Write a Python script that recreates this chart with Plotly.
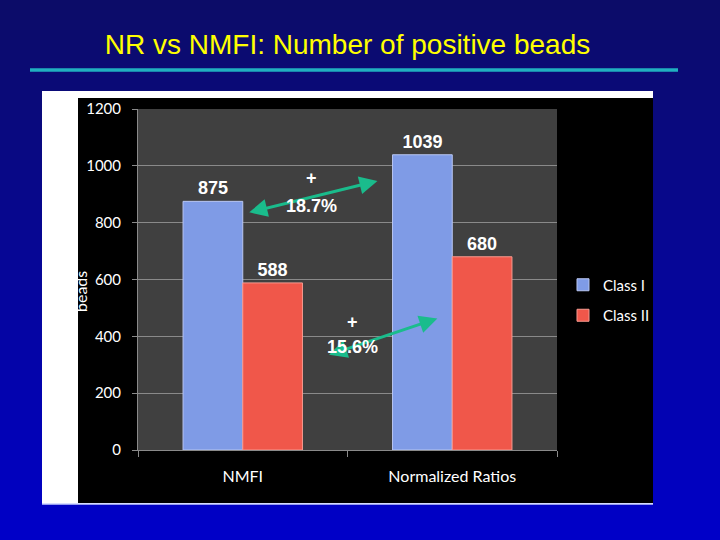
import plotly.graph_objects as go

# ---- data ----
categories = ["NMFI", "Normalized Ratios"]
class1_values = [875, 1039]
class2_values = [588, 680]
series_names = ["Class I", "Class II"]
y_ticks = [0, 200, 400, 600, 800, 1000, 1200]
pct_labels = ["18.7%", "15.6%"]

W, H = 720, 540
ML, MR, MT, MB = 138, 163, 109, 90
PW = W - ML - MR
PH = H - MT - MB


def px2x(px):
    return (px - ML) / PW


def py2y(py):
    return (H - MB - py) / PH


fig = go.Figure()
fig.add_trace(go.Bar(
    x=categories, y=class1_values, name=series_names[0],
    marker=dict(color="#7f9be6", line=dict(color="#b8c6f2", width=1)),
    texttemplate="<b>%{y}</b>", textposition="outside", cliponaxis=False,
    textfont=dict(family="Liberation Sans", size=18, color="white"),
    legendgroup="a",
))
fig.add_trace(go.Bar(
    x=categories, y=class2_values, name=series_names[1],
    marker=dict(color="#f0574a", line=dict(color="#f79a90", width=1)),
    texttemplate="<b>%{y}</b>", textposition="outside", cliponaxis=False,
    textfont=dict(family="Liberation Sans", size=18, color="white"),
    legendgroup="b",
))

shapes = []
# background gradient (slide)
N = 54
top = (12, 12, 104)
bot = (0, 0, 200)
for i in range(N):
    t = i / (N - 1)
    c = tuple(round(top[k] + (bot[k] - top[k]) * t) for k in range(3))
    y0 = H * i / N
    y1 = H * (i + 1) / N + 0.5
    shapes.append(dict(type="rect", xref="paper", yref="paper", layer="below",
                       x0=px2x(-2), x1=px2x(W + 2), y0=py2y(y1), y1=py2y(y0),
                       fillcolor="rgb(%d,%d,%d)" % c, line=dict(width=0)))
# chart picture: white border strip + black chart area
shapes.append(dict(type="rect", xref="paper", yref="paper", layer="below",
                   x0=px2x(42), x1=px2x(653), y0=py2y(504), y1=py2y(91),
                   fillcolor="white", line=dict(width=0)))
shapes.append(dict(type="rect", xref="paper", yref="paper", layer="below",
                   x0=px2x(78), x1=px2x(653), y0=py2y(503), y1=py2y(98),
                   fillcolor="black", line=dict(width=0)))
shapes.append(dict(type="line", xref="paper", yref="paper", layer="below",
                   x0=px2x(42), x1=px2x(653), y0=py2y(504), y1=py2y(504),
                   line=dict(color="#c8d0ff", width=1.5)))
# plot area
shapes.append(dict(type="rect", xref="x domain", yref="y domain", layer="below",
                   x0=0, x1=1, y0=0, y1=1, fillcolor="#404040", line=dict(width=0)))
# title underline
shapes.append(dict(type="line", xref="paper", yref="paper", layer="above",
                   x0=px2x(30), x1=px2x(678), y0=py2y(70), y1=py2y(70),
                   line=dict(color="#20b0c0", width=3.5)))

arrow_color = "#1abc8c"
txt_font = dict(family="Liberation Sans", size=18, color="white")
annotations = [
    # y axis title (partly hidden behind the white strip)
    dict(text="beads", xref="paper", yref="paper", x=px2x(80), y=py2y(292),
         xanchor="center", yanchor="middle",
         textangle=-90, showarrow=False,
         font=dict(family="Lato", size=16, color="white")),
    # arrows
    dict(x=0.643, y=947, ax=0.024, ay=835, xref="x", yref="y", axref="x", ayref="y",
         text="", showarrow=True, arrowhead=2, startarrowhead=2, arrowside="end+start",
         arrowsize=1.2, startarrowsize=1.2, arrowwidth=3, arrowcolor=arrow_color,
         standoff=0, startstandoff=0),
    dict(x=0.929, y=463, ax=0.405, ay=333, xref="x", yref="y", axref="x", ayref="y",
         text="", showarrow=True, arrowhead=2, startarrowhead=2, arrowside="end+start",
         arrowsize=1.2, startarrowsize=1.2, arrowwidth=3, arrowcolor=arrow_color,
         standoff=0, startstandoff=0),
    dict(text="<b>+</b>", x=0.329, y=958, xref="x", yref="y", showarrow=False, font=txt_font),
    dict(text="<b>" + pct_labels[0] + "</b>", x=0.329, y=860, xref="x", yref="y",
         showarrow=False, font=txt_font),
    dict(text="<b>+</b>", x=0.524, y=449, xref="x", yref="y", showarrow=False, font=txt_font),
    dict(text="<b>" + pct_labels[1] + "</b>", x=0.524, y=361, xref="x", yref="y",
         showarrow=False, font=txt_font),
]

fig.update_layout(
    width=W, height=H,
    margin=dict(l=ML, r=MR, t=MT, b=MB, pad=0),
    paper_bgcolor="#0c0c68",
    plot_bgcolor="#404040",
    barmode="group", bargap=0.43, bargroupgap=0,
    title=dict(text="NR vs NMFI: Number of positive beads", x=0.5, xanchor="center",
               xref="paper", y=1 - 44 / H, yref="container", yanchor="middle",
               font=dict(family="Liberation Sans", size=28, color="#ffff00")),
    shapes=shapes,
    annotations=annotations,
    showlegend=True,
    legend=dict(x=px2x(563), y=py2y(300), xanchor="left", yanchor="middle",
                bgcolor="rgba(0,0,0,0)", borderwidth=0, tracegroupgap=8,
                font=dict(family="Lato", size=15, color="white")),
    xaxis=dict(showline=True, linecolor="#8a8a8a", linewidth=1,
               ticks="outside", tickson="boundaries", ticklen=6, tickcolor="#8a8a8a",
               ticklabelstandoff=12, showgrid=False,
               tickfont=dict(family="Lato", size=16, color="white")),
    yaxis=dict(range=[0, 1200], tickvals=y_ticks, showline=True, linecolor="#8a8a8a",
               linewidth=1, ticks="outside", ticklen=5, tickcolor="#8a8a8a",
               ticklabelstandoff=8, showgrid=True, gridcolor="#8a8a8a", gridwidth=1,
               zeroline=False,
               tickfont=dict(family="Lato", size=15, color="white")),
)

fig.write_html("out.html")
